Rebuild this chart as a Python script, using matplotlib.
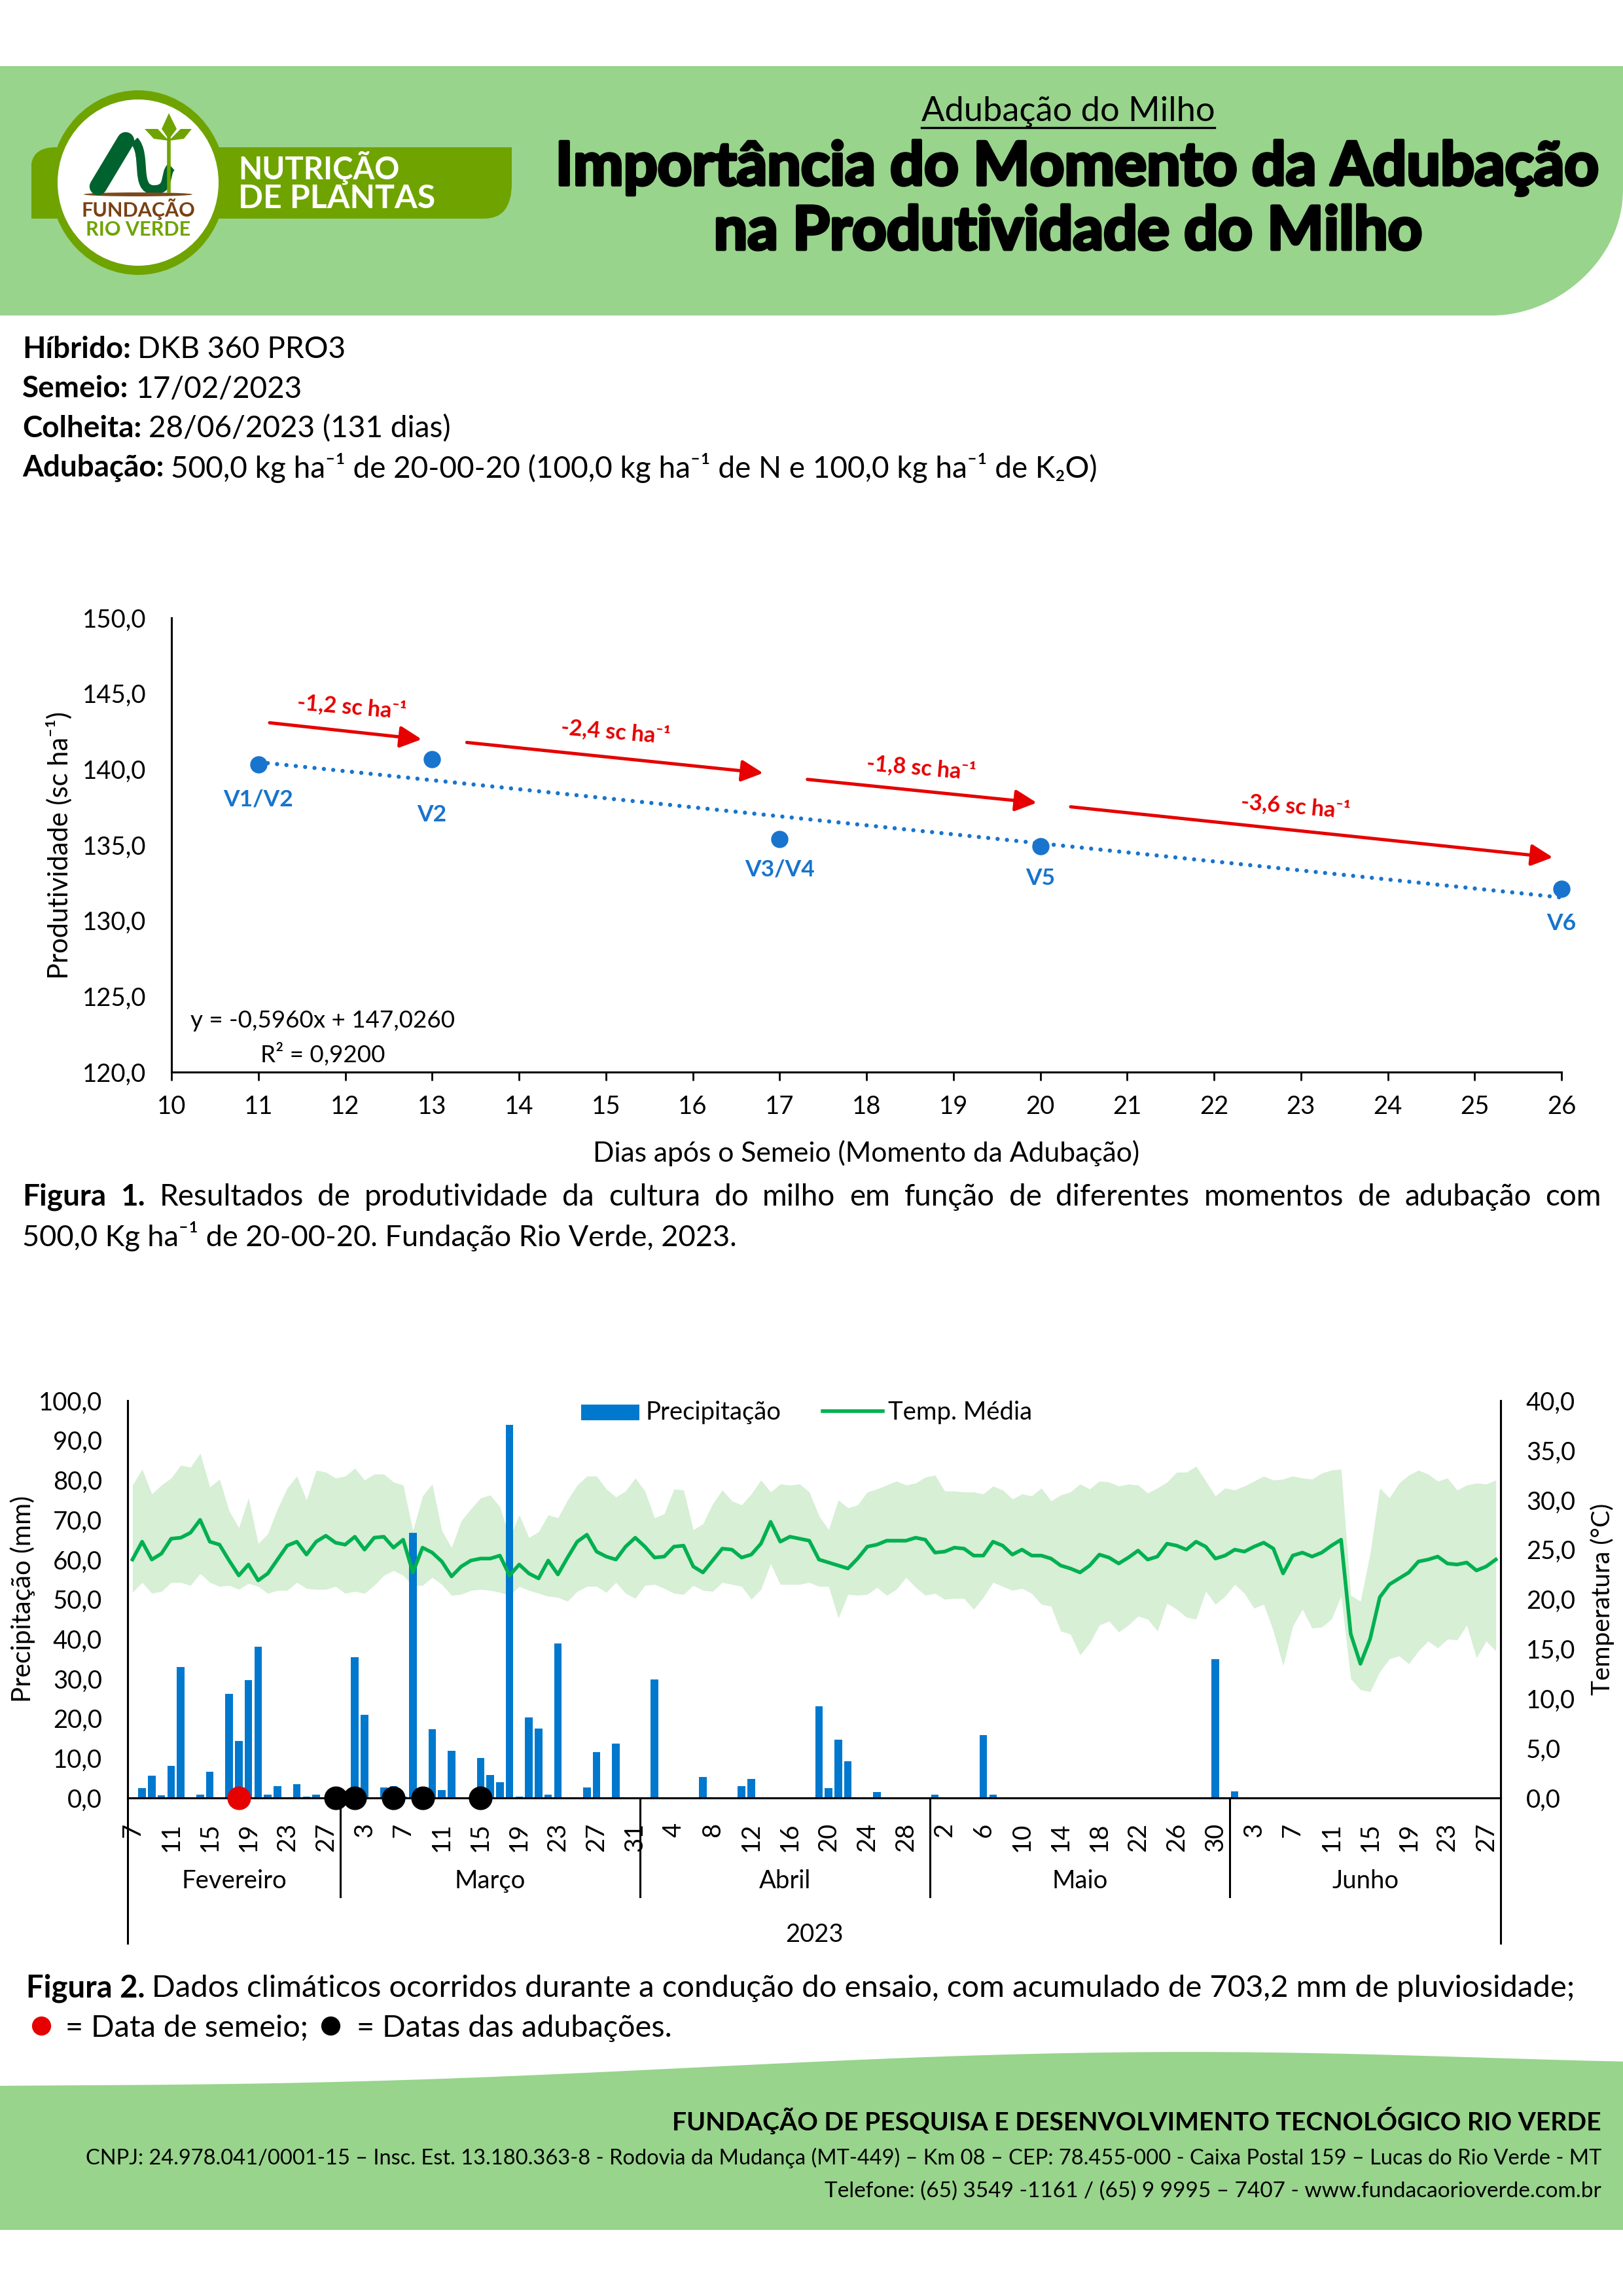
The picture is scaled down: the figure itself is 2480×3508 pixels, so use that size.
import numpy as np
import matplotlib
matplotlib.use("Agg")
import matplotlib.pyplot as plt
import matplotlib.patheffects as pe
from matplotlib.patches import Ellipse, PathPatch, Polygon, Rectangle
from matplotlib.path import Path
from matplotlib.transforms import blended_transform_factory

plt.rcParams['font.family'] = ['Lato', 'DejaVu Sans']

VERDE_CLARO = '#98D48C'
VERDE_LOGO = '#6FA300'
VERDE_ESCURO = '#00622E'
AZUL = '#1874CD'
VERMELHO = '#E60000'

# figura 1
dias_adubacao = [11, 13, 17, 20, 26]
produtividade = [140.3, 140.65, 135.4, 134.9, 132.1]
estadios = ['V1/V2', 'V2', 'V3/V4', 'V5', 'V6']
estadios_y = [138.0, 137.0, 133.4, 132.8, 129.8]
coef_a = -0.5960
coef_b = 147.0260
setas_ini = [(11.13, 143.07), (13.40, 141.77), (17.32, 139.33), (20.35, 137.52)]
setas_fim = [(12.88, 141.98), (16.81, 139.75), (19.96, 137.79), (25.90, 134.18)]
setas_txt = ['-1,2 sc ha⁻¹', '-2,4 sc ha⁻¹', '-1,8 sc ha⁻¹', '-3,6 sc ha⁻¹']
setas_txt_pos = [(12.08, 144.14), (15.11, 142.48), (18.63, 140.1), (22.94, 137.55)]

# figura 2
precipitacao = [
    0.2, 2.5, 5.6, 0.6, 8.1, 32.9, 0.1, 0.8, 6.6, 0.2,
    26.2, 14.4, 29.6, 38.0, 0.9, 3.0, 0.2, 3.5, 0.3, 0.9,
    0.1, 0, 0, 35.5, 21.0, 0.2, 2.6, 3.0, 0.3, 66.7,
    0, 17.3, 2.0, 11.8, 0.1, 0.1, 10.1, 5.8, 3.9, 93.9,
    0.3, 20.2, 17.5, 0.9, 38.8, 0.1, 0, 2.7, 11.6, 0,
    13.7, 0.1, 0, 0, 29.9, 0, 0, 0, 0, 5.3,
    0, 0, 0, 3.0, 4.7, 0.1, 0, 0, 0, 0,
    0, 23.1, 2.4, 14.6, 9.3, 0.1, 0, 1.5, 0, 0,
    0, 0, 0, 0.8, 0, 0, 0, 0, 15.8, 0.8,
    0, 0, 0, 0, 0, 0, 0, 0, 0, 0,
    0, 0, 0, 0, 0, 0, 0, 0, 0, 0,
    0.1, 0, 34.9, 0, 1.7, 0.1, 0, 0, 0, 0,
    0, 0, 0, 0, 0, 0, 0, 0, 0, 0,
    0, 0, 0, 0, 0, 0, 0, 0, 0, 0,
    0, 0]
temp_media = [
    24.0, 25.8, 24.0, 24.6, 26.1, 26.2, 26.7, 28.0, 25.8, 25.5,
    23.9, 22.4, 23.5, 21.9, 22.6, 24.0, 25.4, 25.8, 24.5, 25.8,
    26.4, 25.7, 25.5, 26.3, 25.0, 26.2, 26.3, 25.2, 26.0, 22.7,
    25.2, 24.7, 23.8, 22.3, 23.3, 23.9, 24.1, 24.1, 24.4, 22.4,
    23.5, 22.6, 22.1, 23.9, 22.5, 24.2, 25.8, 26.5, 24.8, 24.3,
    24.0, 25.3, 26.2, 25.3, 24.2, 24.3, 25.3, 25.4, 23.3, 22.7,
    23.9, 25.1, 25.0, 24.2, 24.5, 25.6, 27.8, 25.8, 26.3, 26.1,
    25.9, 24.0, 23.7, 23.4, 23.1, 24.1, 25.3, 25.5, 25.9, 25.9,
    25.9, 26.2, 26.0, 24.7, 24.8, 25.2, 25.1, 24.4, 24.4, 25.8,
    25.4, 24.5, 25.0, 24.4, 24.4, 24.1, 23.4, 23.1, 22.7, 23.4,
    24.5, 24.2, 23.6, 24.2, 24.9, 24.0, 24.3, 25.6, 25.4, 25.0,
    25.8, 25.3, 24.1, 24.4, 25.0, 24.8, 25.3, 25.7, 25.1, 22.6,
    24.4, 24.7, 24.3, 24.7, 25.4, 26.0, 16.5, 13.5, 16.0, 20.2,
    21.5, 22.1, 22.7, 23.8, 24.0, 24.3, 23.6, 23.5, 23.7, 22.9,
    23.3, 24.0]
temp_max = [
    31.5, 33.1, 30.6, 31.5, 32.2, 33.5, 33.3, 34.7, 31.3, 32.1,
    28.9, 27.2, 30.2, 25.6, 26.6, 29.1, 31.2, 32.4, 30.0, 33.0,
    32.8, 32.2, 32.4, 33.2, 32.0, 32.6, 32.6, 31.8, 31.5, 26.9,
    30.4, 31.6, 26.9, 25.2, 27.9, 29.1, 30.2, 30.5, 29.3, 26.2,
    28.5, 26.2, 26.8, 28.5, 28.2, 30.0, 31.5, 32.4, 32.4, 31.1,
    30.3, 30.9, 32.2, 30.9, 28.2, 28.6, 31.1, 31.0, 27.0, 27.6,
    29.6, 31.0, 29.9, 29.5, 30.6, 32.0, 30.8, 31.6, 31.5, 31.6,
    30.8, 28.4, 27.0, 30.0, 29.2, 29.5, 30.8, 31.1, 31.5, 31.9,
    31.5, 31.7, 32.3, 32.5, 30.9, 30.9, 30.8, 30.8, 30.6, 31.4,
    31.0, 30.1, 30.6, 30.4, 31.2, 29.9, 30.5, 30.8, 31.6, 31.1,
    31.9, 31.8, 31.4, 31.6, 31.5, 30.7, 31.2, 31.8, 32.8, 32.8,
    33.4, 31.9, 30.4, 31.2, 31.0, 31.4, 31.9, 32.4, 32.0, 32.1,
    32.4, 32.2, 32.1, 32.7, 33.0, 33.1, 20.4, 19.8, 24.6, 31.2,
    30.2, 31.7, 32.5, 33.0, 32.6, 31.9, 32.2, 31.0, 31.5, 31.7,
    31.6, 32.0]
temp_min = [
    20.7, 21.7, 20.6, 20.8, 21.7, 21.7, 21.4, 22.6, 21.7, 21.3,
    21.4, 21.0, 21.6, 21.3, 20.6, 20.9, 20.9, 21.7, 21.1, 21.0,
    21.0, 21.3, 20.6, 20.8, 20.6, 21.4, 22.4, 22.9, 22.4, 21.4,
    21.4, 22.2, 21.5, 20.4, 20.5, 20.9, 21.0, 20.9, 20.7, 20.4,
    21.3, 20.9, 20.6, 20.3, 20.2, 19.8, 20.8, 21.3, 21.3, 20.7,
    21.7, 20.6, 20.1, 21.4, 21.5, 21.1, 20.6, 20.5, 21.4, 20.9,
    20.8, 21.7, 21.5, 21.3, 20.0, 21.0, 23.6, 21.5, 21.5, 21.5,
    21.7, 21.3, 21.3, 18.1, 20.5, 20.4, 20.5, 21.2, 20.4, 21.0,
    22.2, 21.2, 20.4, 20.6, 20.0, 20.1, 20.1, 19.0, 20.2, 21.7,
    21.3, 20.9, 21.1, 20.6, 19.5, 19.3, 16.8, 16.5, 14.4, 15.6,
    17.4, 17.8, 16.7, 17.4, 18.3, 18.0, 16.8, 19.6, 19.0, 18.2,
    18.0, 20.8, 19.5, 20.3, 21.5, 20.6, 19.1, 19.5, 16.8, 13.3,
    17.3, 19.0, 17.1, 17.2, 18.0, 20.3, 12.0, 10.9, 10.7, 12.7,
    14.0, 14.3, 13.5, 14.8, 15.8, 15.1, 16.0, 15.9, 17.4, 14.1,
    15.8, 14.8]
rotulos_dia = [7, 11, 15, 19, 23, 27, 3, 7, 11, 15, 19, 23, 27, 31, 4, 8, 12, 16,
               20, 24, 28, 2, 6, 10, 14, 18, 22, 26, 30, 3, 7, 11, 15, 19, 23, 27]
meses = ['Fevereiro', 'Março', 'Abril', 'Maio', 'Junho']
dias_mes = [22, 31, 30, 31, 28]
semeio = [11]
adubacoes = [21, 23, 27, 30, 36]

W, H = 2480, 3508
fig = plt.figure(figsize=(W / 100, H / 100), dpi=100, facecolor='white')


def caixa(x0, y0, x1, y1):
    return [x0 / W, 1 - y1 / H, (x1 - x0) / W, (y1 - y0) / H]


FS = 27.5

# figura 1
ax1 = fig.add_axes(caixa(262, 944, 2386, 1638))
ax1.set_xlim(10, 26)
ax1.set_ylim(120, 150)
for lado in ['top', 'right']:
    ax1.spines[lado].set_visible(False)
for lado in ['left', 'bottom']:
    ax1.spines[lado].set_linewidth(2.2)
ax1.set_xticks(range(10, 27))
ax1.set_yticks(range(120, 151, 5))
ax1.set_yticklabels([f'{v},0' for v in range(120, 151, 5)])
ax1.tick_params(axis='x', length=9, width=2, pad=16, labelsize=FS)
ax1.tick_params(axis='y', length=0, pad=28, labelsize=FS)
ax1.set_xlabel('Dias após o Semeio (Momento da Adubação)', fontsize=30.7, labelpad=24)
ax1.set_ylabel('Produtividade (sc ha⁻¹)', fontsize=30)
ax1.yaxis.set_label_coords(-0.071, 0.5)

x_tend = np.array([dias_adubacao[0], dias_adubacao[-1]])
ax1.plot(x_tend, coef_a * x_tend + coef_b, color=AZUL, lw=4.6, ls=(0, (0.01, 2.24)),
         dash_capstyle='round')
ax1.plot(dias_adubacao, produtividade, 'o', color=AZUL, ms=18, clip_on=False, zorder=4)
for x, y, nome in zip(dias_adubacao, estadios_y, estadios):
    ax1.text(x, y, nome, color=AZUL, fontsize=25.5, fontweight='bold', ha='center', va='center')
for ini, fim, txt, pos in zip(setas_ini, setas_fim, setas_txt, setas_txt_pos):
    ax1.annotate('', xy=fim, xytext=ini,
                 arrowprops=dict(arrowstyle='-|>,head_length=1.0,head_width=0.5', color=VERMELHO,
                                 lw=3.6, shrinkA=0, shrinkB=0, mutation_scale=20))
    ax1.text(pos[0], pos[1], txt, color=VERMELHO, fontsize=24.5, fontweight='bold',
             ha='center', va='center', rotation=-5)

# figura 2
ax2 = fig.add_axes(caixa(195, 2140, 2293, 2747))
indice = np.arange(len(precipitacao))
ax2.set_xlim(-0.5, len(precipitacao) - 0.5)
ax2.set_ylim(0, 100)
escala = 100 / 40
ax2.fill_between(indice, np.array(temp_min) * escala, np.array(temp_max) * escala,
                 color='#D6EFD5', lw=0, zorder=1)
ax2.bar(indice, precipitacao, width=0.78, color='#0078CE', zorder=2)
ax2.set_yticks(range(0, 101, 10))
ax2.set_yticklabels([f'{v},0' for v in range(0, 101, 10)])
ax2.set_xticks(indice[::4])
ax2.set_xticklabels(rotulos_dia, rotation=90, va='top')
ax2.tick_params(axis='x', length=0, pad=27, labelsize=FS)
ax2.tick_params(axis='y', length=0, pad=28, labelsize=FS)
ax2.set_ylabel('Precipitação (mm)', fontsize=29)
ax2.yaxis.set_label_coords(-0.067, 0.5)
ax2.spines['top'].set_visible(False)

ax3 = ax2.twinx()
ax3.set_ylim(0, 40)
ax3.plot(indice, temp_media, color='#00B050', lw=4, zorder=3)
ax3.set_yticks(range(0, 41, 5))
ax3.set_yticklabels([f'{v},0' for v in range(0, 41, 5)])
ax3.tick_params(axis='y', length=0, pad=28, labelsize=FS)
ax3.set_ylabel('Temperatura (°C)', fontsize=28, rotation=90, labelpad=16)
ax3.yaxis.set_label_position('right')
ax3.spines['top'].set_visible(False)
for a in [ax2, ax3]:
    for lado in ['left', 'right', 'bottom']:
        a.spines[lado].set_linewidth(2.2)

# divisoes de mes abaixo do eixo
trans = blended_transform_factory(ax3.transData, ax3.transAxes)
limites = np.cumsum([0] + dias_mes) - 0.5
for k, lim in enumerate(limites):
    fundo = -0.3657 if k in (0, len(meses)) else -0.2488
    ax3.plot([lim, lim], [0, fundo], color='black', lw=2.2, transform=trans, clip_on=False)
for k, mes in enumerate(meses):
    ax3.text((limites[k] + limites[k + 1]) / 2, -0.2095, mes, fontsize=FS, ha='center',
             va='center', transform=trans)
ax3.text(np.mean(limites[[0, -1]]), -0.3445, '2023', fontsize=FS, ha='center', va='center',
         transform=trans)
ax2.set_zorder(1)
ax3.set_zorder(2)
ax3.patch.set_visible(False)
ax3.plot(semeio, [0] * len(semeio), 'o', color=VERMELHO, ms=25, clip_on=False, zorder=6,
         transform=ax2.transData)
ax3.plot(adubacoes, [0] * len(adubacoes), 'o', color='black', ms=25, clip_on=False, zorder=6,
         transform=ax2.transData)

# camada da pagina, em pixels
pg = fig.add_axes([0, 0, 1, 1])
pg.set_xlim(0, W)
pg.set_ylim(H, 0)
pg.axis('off')
pg.set_zorder(5)
rend = fig.canvas.get_renderer()

# cabecalho
cabec = Path([(0, 101), (W, 101), (W, 290), (W, 396), (2380, 482), (2280, 482), (0, 482), (0, 101)],
             [Path.MOVETO, Path.LINETO, Path.LINETO, Path.CURVE4, Path.CURVE4, Path.CURVE4,
              Path.LINETO, Path.CLOSEPOLY])
pg.add_patch(PathPatch(cabec, fc=VERDE_CLARO, lw=0))
faixa = Path([(48, 334), (48, 250), (52, 225), (85, 225), (782, 225), (782, 280), (782, 334),
              (740, 334), (48, 334)],
             [Path.MOVETO, Path.LINETO, Path.CURVE3, Path.CURVE3, Path.LINETO, Path.LINETO,
              Path.CURVE3, Path.CURVE3, Path.CLOSEPOLY])
pg.add_patch(PathPatch(faixa, fc=VERDE_LOGO, lw=0))
pg.add_patch(Ellipse((211, 279), 268, 282, fc=VERDE_LOGO, lw=0))
pg.add_patch(Ellipse((211, 279), 246, 254, fc='white', lw=0))
pg.plot([192, 150], [215, 285], color=VERDE_ESCURO, lw=19, solid_capstyle='round')
onda = Path([(205, 215), (225, 235), (205, 290), (235, 290), (262, 290), (250, 265), (262, 255)],
            [Path.MOVETO] + [Path.CURVE4] * 6)
pg.add_patch(PathPatch(onda, fc='none', ec=VERDE_ESCURO, lw=10))
pg.plot([258, 258], [205, 292], color=VERDE_LOGO, lw=4)
pg.add_patch(Polygon([(258, 173), (247, 197), (258, 213), (270, 197)], fc=VERDE_LOGO, lw=0))
pg.add_patch(Polygon([(221, 197), (241, 197), (258, 215), (235, 212)], fc=VERDE_LOGO, lw=0))
pg.add_patch(Polygon([(293, 197), (276, 197), (258, 215), (281, 212)], fc=VERDE_LOGO, lw=0))
pg.add_patch(Ellipse((211, 297), 166, 6, fc='#7A4A1E', lw=0))
pg.text(211, 320, 'FUNDAÇÃO', fontsize=22, fontweight='bold', color='#7A4012', ha='center', va='center')
pg.text(211, 351, 'RIO VERDE', fontsize=22, fontweight='bold', color=VERDE_LOGO, ha='center', va='center')
pg.text(364, 256, 'NUTRIÇÃO', fontsize=34, fontweight='bold', color='white', va='center')
pg.text(364, 304, 'DE PLANTAS', fontsize=36, fontweight='bold', color='white', va='center')

sub = pg.text(1632, 170, 'Adubação do Milho', fontsize=37.7, ha='center', va='center')
ext = sub.get_window_extent(rend)
pg.plot([ext.x0, ext.x1], [195, 195], color='black', lw=2.4)
contorno = [pe.withStroke(linewidth=3.5, foreground='black')]
pg.text(1646, 257, 'Importância do Momento da Adubação', fontsize=66, fontweight='bold',
        ha='center', va='center', path_effects=contorno)
pg.text(1632, 355, 'na Produtividade do Milho', fontsize=66, fontweight='bold',
        ha='center', va='center', path_effects=contorno)


def linha_mista(x, y, partes, size=33):
    espaco = 0.23 * size * 100 / 72
    for texto, peso in partes:
        t = pg.text(x, y, texto, fontsize=size, fontweight=peso, va='center')
        x = t.get_window_extent(rend).x1 + espaco
    return x


def linha_justa(x0, x1, y, partes, size=33):
    itens = []
    for texto, peso in partes:
        for palavra in texto.split():
            t = pg.text(0, y, palavra, fontsize=size, fontweight=peso, va='center')
            itens.append((t, t.get_window_extent(rend).width))
    folga = (x1 - x0 - sum(w for _, w in itens)) / (len(itens) - 1)
    x = x0
    for t, w in itens:
        t.set_x(x)
        x += w + folga


linha_mista(34, 534, [('Híbrido:', 'bold'), ('DKB 360 PRO3', 'normal')])
linha_mista(34, 594, [('Semeio:', 'bold'), ('17/02/2023', 'normal')])
linha_mista(34, 655, [('Colheita:', 'bold'), ('28/06/2023 (131 dias)', 'normal')])
linha_mista(34, 715, [('Adubação:', 'bold'),
                      ('500,0 kg ha⁻¹ de 20-00-20 (100,0 kg ha⁻¹ de N e 100,0 kg ha⁻¹ de K₂O)', 'normal')])

pg.text(493, 1560, 'y = -0,5960x + 147,0260', fontsize=26.5, ha='center', va='center')
pg.text(493, 1611, 'R² = 0,9200', fontsize=26.5, ha='center', va='center')

linha_justa(34, 2447, 1829, [('Figura 1.', 'bold'),
            ('Resultados de produtividade da cultura do milho em função de diferentes momentos de adubação com', 'normal')])
linha_mista(34, 1889, [('500,0 Kg ha⁻¹ de 20-00-20. Fundação Rio Verde, 2023.', 'normal')], size=32.5)

# legenda da figura 2
pg.add_patch(Rectangle((888, 2146), 89, 24, fc='#0078CE', lw=0))
pg.text(986, 2158, 'Precipitação', fontsize=FS, va='center')
pg.plot([1257, 1349], [2156, 2156], color='#00B050', lw=4)
pg.text(1357, 2158, 'Temp. Média', fontsize=FS, va='center')

linha_mista(40, 3038, [('Figura 2.', 'bold'),
            ('Dados climáticos ocorridos durante a condução do ensaio, com acumulado de 703,2 mm de pluviosidade;', 'normal')], size=33.9)
pg.plot([63], [3095], 'o', color=VERMELHO, ms=20)
linha_mista(100, 3099, [('= Data de semeio;', 'normal')], size=33.7)
pg.plot([505], [3095], 'o', color='black', ms=20)
linha_mista(545, 3099, [('= Datas das adubações.', 'normal')], size=33.7)

# rodape
xr = np.array([0, 316, 633, 949, 1266, 1582, 1820, 2057, 2294, 2480])
yr = np.array([3187, 3184, 3178, 3165, 3148, 3138, 3136, 3138, 3144, 3150])
xc = np.linspace(0, W, 200)
pg.fill_between(xc, np.polyval(np.polyfit(xr / W, yr, 5), xc / W), 3407, color=VERDE_CLARO, lw=0)
pg.text(2447, 3240, 'FUNDAÇÃO DE PESQUISA E DESENVOLVIMENTO TECNOLÓGICO RIO VERDE', fontsize=28.2,
        fontweight='bold', ha='right', va='center')
pg.text(2447, 3297, 'CNPJ: 24.978.041/0001-15 – Insc. Est. 13.180.363-8 - Rodovia da Mudança (MT-449) – Km 08 – CEP: 78.455-000 - Caixa Postal 159 – Lucas do Rio Verde - MT',
        fontsize=23.5, ha='right', va='center')
pg.text(2447, 3348, 'Telefone: (65) 3549 -1161 / (65) 9 9995 – 7407 - www.fundacaorioverde.com.br', fontsize=24,
        ha='right', va='center')

fig.savefig('out.png', dpi=100)
